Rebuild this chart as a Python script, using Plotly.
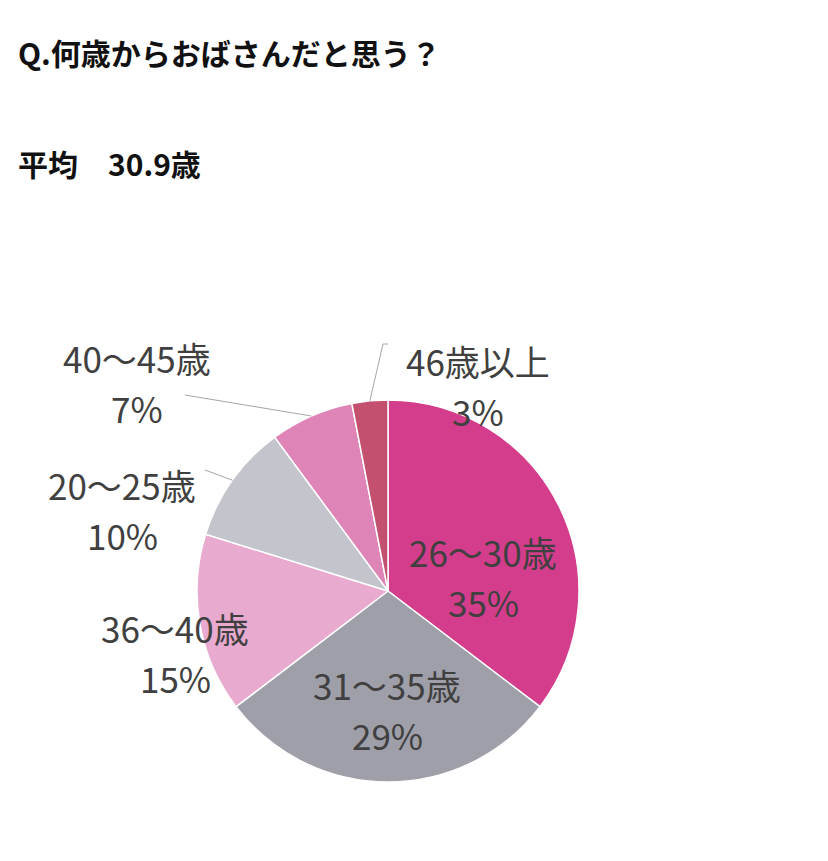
import math
import plotly.graph_objects as go

# data
labels = ["26～30歳", "31～35歳", "36～40歳", "20～25歳", "40～45歳", "46歳以上"]
shares = [35, 29, 15, 10, 7, 3]
colors = ["#D33D8C", "#9E9FA8", "#E9AACF", "#C4C5CC", "#DF84B6", "#C4506F"]

title_text = "Q.何歳からおばさんだと思う？"
avg_text = "平均　30.9歳"

W, H = 828, 861
OFF = 8  # page body margin in the screenshot
cx, cy, r = 388 - OFF, 591 - OFF, 191  # pie centre/radius in pixels

# label positions (pixels, centre of the first text line)
label_pos = {
    "26～30歳": (483, 551),
    "31～35歳": (387, 684),
    "36～40歳": (175, 627),
    "20～25歳": (122, 484),
    "40～45歳": (137, 357),
    "46歳以上": (478, 361),
}
# where the leader line starts, next to the label (pixels)
leader_from = {
    "20～25歳": (205, 470),
    "40～45歳": (185, 395),
    "46歳以上": (383, 344),
}
LINE_GAP = 50
TEXT_COLOR = "#404040"
FONT = "Noto Sans CJK JP"


def px(x, y):
    return x / W, 1 - y / H


fig = go.Figure(go.Pie(
    labels=labels,
    values=shares,
    sort=False,
    direction="clockwise",
    rotation=0,
    marker=dict(colors=colors, line=dict(color="white", width=1.5)),
    textinfo="none",
    hoverinfo="label+percent",
    domain=dict(x=[(cx - r) / W, (cx + r) / W], y=[(H - cy - r) / H, (H - cy + r) / H]),
))

annotations = []
for lab, val in zip(labels, shares):
    x, y = label_pos[lab]
    for i, t in enumerate([lab, f"{val}%"]):
        ax, ay = px(x - OFF, y - OFF + i * LINE_GAP)
        annotations.append(dict(
            x=ax, y=ay, xref="paper", yref="paper", text=t, showarrow=False,
            xanchor="center", yanchor="middle",
            font=dict(family=FONT, size=35, color=TEXT_COLOR)))

# leader lines, ending at the middle of the slice edge
total = sum(shares)
shapes = []
cum = 0
for lab, val in zip(labels, shares):
    mid = (cum + val / 2) / total * 2 * math.pi
    cum += val
    if lab not in leader_from:
        continue
    ex, ey = cx + r * math.sin(mid), cy - r * math.cos(mid)
    sx, sy = leader_from[lab]
    x0, y0 = px(sx - OFF, sy - OFF)
    x1, y1 = px(ex, ey)
    shapes.append(dict(type="line", xref="paper", yref="paper", x0=x0, y0=y0, x1=x1, y1=y1,
                       line=dict(color="#A6A6A6", width=1)))
    if lab == "46歳以上":
        x2, _ = px(sx - OFF + 5, sy)
        shapes.append(dict(type="line", xref="paper", yref="paper", x0=x0, y0=y0, x1=x2, y1=y0,
                           line=dict(color="#A6A6A6", width=1)))

for text, ty in [(title_text, 52), (avg_text, 163)]:
    tx, tyy = px(20 - OFF - 4, ty - OFF)
    annotations.append(dict(x=tx, y=tyy, xref="paper", yref="paper",
                            text=f"<b>{text}</b>", showarrow=False, xanchor="left", yanchor="middle",
                            font=dict(family=FONT, size=30, color="#111111")))

fig.update_layout(
    width=W, height=H,
    margin=dict(l=0, r=0, t=0, b=0),
    paper_bgcolor="white",
    showlegend=False,
    annotations=annotations,
    shapes=shapes,
)

fig.write_html("out.html")
